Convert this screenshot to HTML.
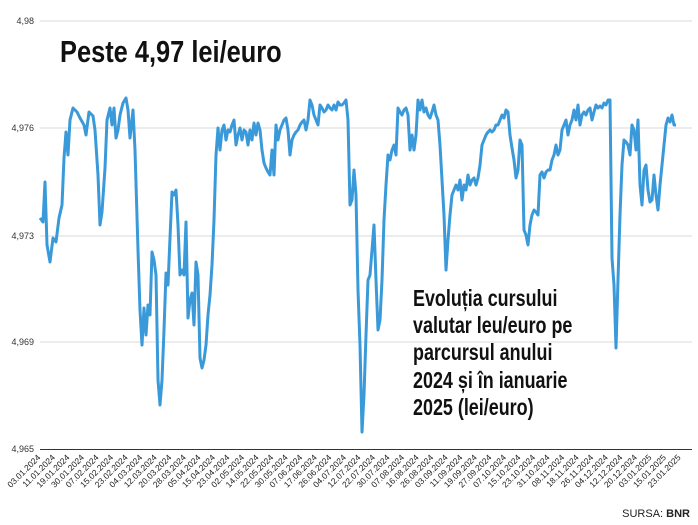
<!DOCTYPE html>
<html><head><meta charset="utf-8"><style>
body{margin:0;background:#fff;}
svg{display:block;}
</style></head><body>
<svg width="698" height="525" xmlns="http://www.w3.org/2000/svg" font-family="Liberation Sans, sans-serif">
<g stroke="#d8d8d8" stroke-width="1">
<line x1="40" y1="21" x2="692" y2="21"/><line x1="40" y1="128" x2="692" y2="128"/><line x1="40" y1="236" x2="692" y2="236"/><line x1="40" y1="342" x2="692" y2="342"/>
</g>
<line x1="40" y1="449.5" x2="692" y2="449.5" stroke="#333" stroke-width="1"/>
<g font-size="9" fill="#333" text-anchor="end">
<text x="34" y="24">4,98</text><text x="34" y="131">4,976</text><text x="34" y="239">4,973</text><text x="34" y="345">4,969</text><text x="34" y="452">4,965</text>
</g>
<polyline fill="none" stroke="#3a9ad9" stroke-width="3" stroke-linejoin="round" points="40,218 43,222 45,182 47,245 50,262 53,238 56,242 59,218 62,205 64,158 66,132 68,155 70,120 73,108 77,112 80,118 84,125 86,135 89,112 93,116 95,130 98,175 100,225 102,212 105,168 107,120 110,108 112,125 114,108 116,138 118,130 120,115 123,103 126,98 128,110 130,138 133,110 135,150 138,250 140,310 142,345 144,308 146,335 148,305 150,315 152,252 154,260 156,275 158,380 160,405 162,380 164,330 166,273 168,285 170,238 172,192 174,195 176,190 178,225 180,275 182,270 184,275 186,222 188,318 190,300 192,293 194,325 196,262 198,275 200,358 202,368 204,360 206,345 208,315 210,295 212,265 214,220 216,155 218,128 220,150 222,130 224,125 226,140 228,130 230,132 232,125 234,120 236,145 238,135 240,128 242,140 244,130 246,132 248,145 250,130 252,140 254,123 256,135 258,123 260,130 262,150 264,163 266,168 268,172 270,175 272,150 274,175 276,125 278,140 280,130 282,125 284,120 286,118 288,130 290,155 292,140 294,135 296,132 298,130 300,125 302,122 304,120 306,130 308,120 310,100 312,105 314,115 316,120 318,125 320,105 322,108 324,112 326,110 328,105 330,108 332,110 334,105 336,110 338,102 340,105 342,105 344,103 346,100 348,120 350,205 352,200 354,170 356,195 358,290 360,345 362,432 364,395 366,335 368,280 370,275 372,250 374,225 376,280 378,330 380,320 382,280 384,220 386,185 388,155 390,160 392,150 394,145 396,155 398,108 400,112 402,115 404,110 406,108 408,115 410,150 412,135 414,150 416,135 418,100 420,110 422,100 424,112 426,108 428,115 430,118 432,112 434,105 436,115 438,120 440,145 442,180 444,215 446,270 448,240 450,215 452,195 454,190 456,185 458,190 460,180 462,200 464,185 466,190 468,175 470,185 472,180 474,178 476,185 478,178 480,165 482,145 484,140 486,135 488,132 490,130 492,132 494,130 496,125 498,125 500,120 502,115 504,118 506,110 508,112 510,135 512,148 514,160 516,178 518,170 520,140 522,145 524,230 526,235 528,245 530,225 532,215 534,210 536,212 538,215 540,175 542,172 544,178 546,172 548,170 550,170 552,160 554,155 556,145 558,155 560,150 562,130 564,125 566,120 568,135 570,125 572,120 574,110 576,120 578,105 580,125 582,115 584,112 586,115 588,110 590,108 592,120 594,112 596,105 598,108 600,106 602,108 604,103 606,105 608,100 610,100 612,258 614,285 616,348 618,280 620,215 622,165 624,140 626,142 628,145 630,155 632,125 634,130 636,150 638,120 640,185 642,205 644,170 646,165 648,190 650,202 652,200 654,175 656,195 658,210 660,185 662,165 664,145 666,125 668,118 670,122 672,115 674,125 676,125"/>
<g font-size="8.5" fill="#222" text-anchor="end" id="ticks"></g>
<text transform="translate(60,62) scale(0.82,1)" font-size="31" font-weight="bold" fill="#111">Peste 4,97 lei/euro</text>
<g transform="translate(413,0) scale(0.78,1)" font-size="23" font-weight="bold" fill="#111">
<text x="0" y="306">Evoluția cursului</text>
<text x="0" y="333">valutar leu/euro pe</text>
<text x="0" y="360">parcursul anului</text>
<text x="0" y="388">2024 și în ianuarie</text>
<text x="0" y="415">2025 (lei/euro)</text>
</g>
<text x="690" y="517" text-anchor="end" font-size="11" fill="#222">SURSA: <tspan font-weight="bold">BNR</tspan></text>
</svg>
<script>
var d=["03.01.2024","11.01.2024","19.01.2024","30.01.2024","07.02.2024","15.02.2024","23.02.2024","04.03.2024","12.03.2024","20.03.2024","28.03.2024","05.04.2024","15.04.2024","23.04.2024","02.05.2024","14.05.2024","22.05.2024","30.05.2024","07.06.2024","17.06.2024","26.06.2024","04.07.2024","12.07.2024","22.07.2024","30.07.2024","07.08.2024","16.08.2024","26.08.2024","03.09.2024","11.09.2024","19.09.2024","27.09.2024","07.10.2024","15.10.2024","23.10.2024","31.10.2024","08.11.2024","18.11.2024","26.11.2024","04.12.2024","12.12.2024","20.12.2024","03.01.2025","15.01.2025","23.01.2025"];
var g=document.getElementById("ticks"),ns="http://www.w3.org/2000/svg";
d.forEach(function(s,i){var t=document.createElementNS(ns,"text");var x=41+i*14.55,y=458;t.setAttribute("transform","translate("+x+","+y+") rotate(-45)");t.textContent=s;g.appendChild(t);});
</script>
</body></html>
